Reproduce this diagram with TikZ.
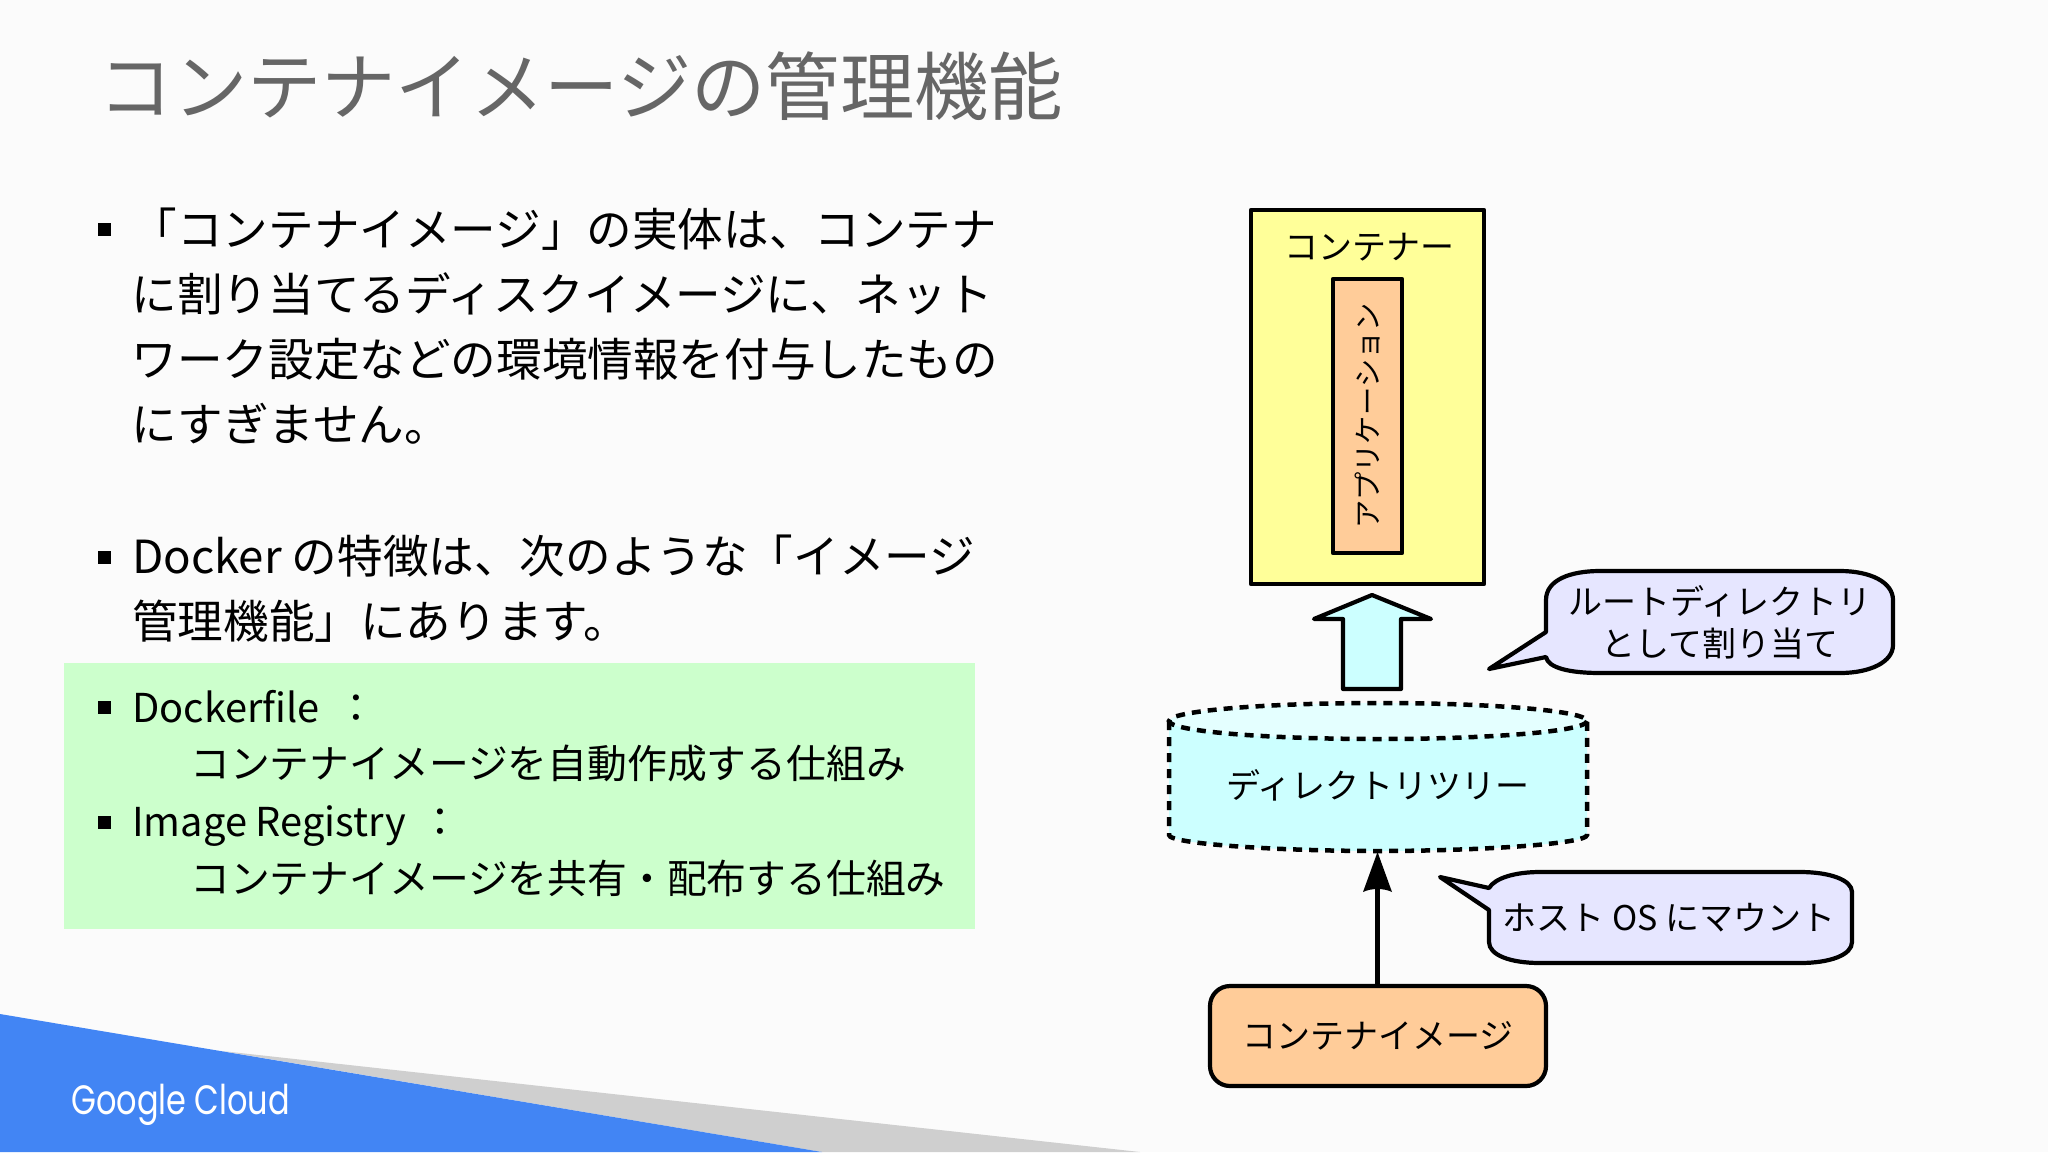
\documentclass[tikz,border=0pt]{standalone}
\usepackage{fontspec}
\newfontfamily\jp{Noto Sans CJK JP}
\newfontfamily\logo{Poppins}[FakeStretch=0.78]
\definecolor{bgc}{HTML}{FBFBFB}
\definecolor{titlec}{HTML}{666666}
\definecolor{bodyc}{HTML}{000000}
\definecolor{greenc}{HTML}{CCFFCC}
\definecolor{yel}{HTML}{FFFF99}
\definecolor{org}{HTML}{FFCC99}
\definecolor{cyn}{HTML}{CCFFFF}
\definecolor{cynl}{HTML}{E4FFFF}
\definecolor{lav}{HTML}{E6E6FF}
\definecolor{gblue}{HTML}{4285F4}
\definecolor{ggrey}{HTML}{CFCFCF}
\tikzset{
  title/.style={anchor=west,inner sep=0,text=titlec,font=\jp\fontsize{74.3}{80}\selectfont},
  body/.style={anchor=west,inner sep=0,text=bodyc,font=\jp\fontsize{45.6}{50}\selectfont},
  sub/.style={anchor=west,inner sep=0,text=bodyc,font=\jp\fontsize{39.8}{44}\selectfont},
  bul/.style={fill=black,minimum size=13pt,inner sep=0,draw=none},
  lab/.style={inner sep=0,text=black,font=\jp\fontsize{34}{38}\selectfont},
  box/.style={draw=black,line width=4.2pt,line join=round},
}
\begin{document}
\begin{tikzpicture}[x=1pt,y=-1pt]
\useasboundingbox (0,0) rectangle (2048,1152);
\fill[bgc] (0,0) rectangle (2048,1152);
% footer
\fill[ggrey] (222,1051) -- (1140,1152) -- (822,1152) -- cycle;
\fill[gblue] (0,1014) -- (822,1152) -- (0,1152) -- cycle;
\node[anchor=west,inner sep=0,text=white,font=\logo\fontsize{41}{44}\selectfont] (logo) at (71,1105) {Google Cloud};
% title
\node[title] (t) at (98.5,86) {コンテナイメージの管理機能};
% green panel
\fill[greenc] (64,663) rectangle (975,929);
% bullets
\foreach \n/\y in {b1/229,b2/557,b3/707,b4/822} \node[bul] (\n) at (104,\y) {};
\node[body] (l1) at (131.5,229) {「コンテナイメージ」の実体は、コンテナ};
\node[body] (l2) at (131.5,294) {に割り当てるディスクイメージに、ネット};
\node[body] (l3) at (131.5,359) {ワーク設定などの環境情報を付与したもの};
\node[body] (l4) at (131.5,424) {にすぎません。};
\node[body] (l5) at (132,556) {Docker の特徴は、次のような「イメージ};
\node[body] (l6) at (132,621) {管理機能」にあります。};
\node[sub] (s1) at (132,707) {Dockerfile\hspace{8pt} ：};
\node[sub] (s2) at (190,763) {コンテナイメージを自動作成する仕組み};
\node[sub] (s3) at (132,826) {Image Registry\hspace{6pt} ：};
\node[sub] (s4) at (190,878) {コンテナイメージを共有・配布する仕組み};
% container
\node[box,fill=yel,minimum width=233pt,minimum height=374pt,inner sep=0] (cont) at (1367.5,397) {};
\node[lab] (contl) at (1369,247) {コンテナー};
\node[box,fill=org,minimum width=69pt,minimum height=274pt,inner sep=0] (app) at (1367.5,416) {};
\node[lab,rotate=90,font=\jp\fontsize{28.3}{30}\selectfont] (appl) at (app.center) {アプリケーション};
% block arrow
\draw[box,fill=cyn] (1372,595) -- (1431,619) -- (1401,619) -- (1401,689) -- (1343,689) -- (1343,619) -- (1314,619) -- cycle;
% cylinder
\fill[cyn] (1169,721) -- (1169,835)
  .. controls (1169,844) and (1280,851) .. (1378,851)
  .. controls (1476,851) and (1587,844) .. (1587,835) -- (1587,721) -- cycle;
\fill[cynl] (1378,721) ellipse[x radius=209,y radius=18];
\coordinate (cylb) at (1378,851);
\begin{scope}[line width=4.5pt,dash pattern=on 9pt off 7pt]
\draw (1378,721) ellipse[x radius=209,y radius=18];
\draw (1169,721) -- (1169,835)
  .. controls (1169,844) and (1280,851) .. (1378,851)
  .. controls (1476,851) and (1587,844) .. (1587,835) -- (1587,721);
\end{scope}
\node[lab] (cyll) at (1378,785) {ディレクトリツリー};
% image box
\node[box,fill=org,rounded corners=20pt,minimum width=336pt,minimum height=100pt,inner sep=0] (img) at (1378,1036) {};
\node[lab] (imgl) at (img.center) {コンテナイメージ};
% thin arrow
\fill[black] (1377.5,852) -- (1392,892) .. controls (1384,888) and (1371,888) .. (1363,892) -- cycle;
\coordinate (atip) at (1377.5,888);
\draw[line width=4.5pt] (img.north -| atip) -- (atip);
% callout 1
\coordinate (c1t) at (1489,669);
\draw[box,fill=lav] (1546,632) -- (1546,600) .. controls (1546,580) and (1570,571) .. (1600,571)
  -- (1840,571) .. controls (1870,571) and (1893,582) .. (1893,600)
  -- (1893,645) .. controls (1893,662) and (1870,673) .. (1840,673)
  -- (1600,673) .. controls (1570,673) and (1548,668) .. (1546,657) -- (c1t) -- cycle;
\node[lab] (c1a) at (1720,601) {ルートディレクトリ};
\node[lab] (c1b) at (1720,644) {として割り当て};
% callout 2
\coordinate (c2t) at (1440,877);
\draw[box,fill=lav] (1489,888) .. controls (1495,878) and (1515,872) .. (1540,872)
  -- (1800,872) .. controls (1830,872) and (1852,880) .. (1852,892)
  -- (1852,942) .. controls (1852,955) and (1830,963) .. (1800,963)
  -- (1540,963) .. controls (1510,963) and (1489,955) .. (1489,942) -- (1489,910) -- (c2t) -- cycle;
\node[lab] (c2a) at (1669,918) {ホスト OS にマウント};
\end{tikzpicture}
\end{document}
